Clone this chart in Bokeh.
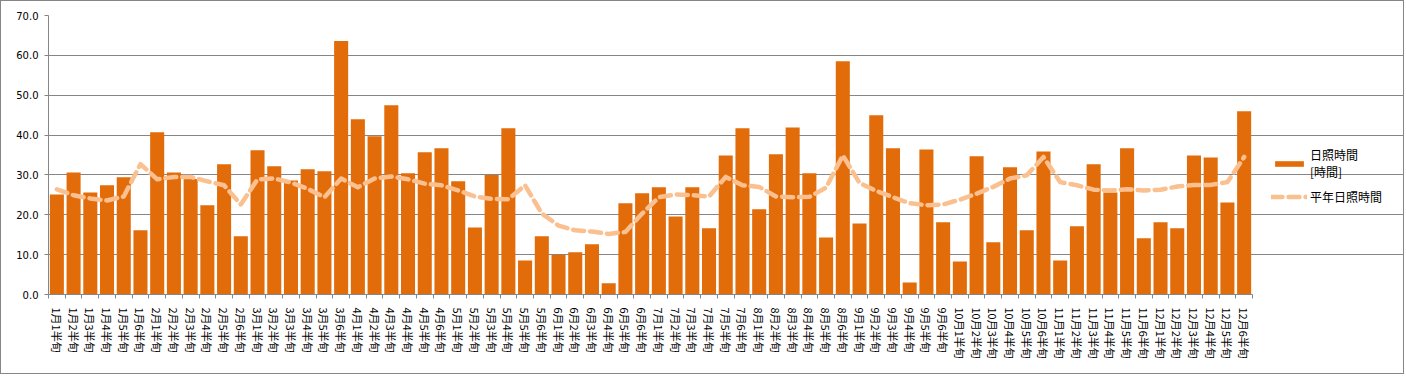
import numpy as np
from bokeh.plotting import figure
from bokeh.models import (Range1d, FixedTicker, NumeralTickFormatter, Legend, LegendItem)
from bokeh.embed import file_html
from bokeh.resources import INLINE

months = [f"{m}月" for m in range(1, 13)]
periods = [f"{k}半旬" for k in range(1, 7)]
categories = [m + p for m in months for p in periods]

sunshine = [
    25.1, 30.6, 25.6, 27.4, 29.4, 16.1,
    40.7, 30.6, 29.0, 22.4, 32.7, 14.6,
    36.2, 32.2, 28.6, 31.4, 30.9, 63.6,
    44.0, 39.7, 47.5, 30.4, 35.7, 36.7,
    28.4, 16.8, 30.0, 41.7, 8.5, 14.6,
    10.0, 10.6, 12.6, 2.8, 22.9, 25.4,
    26.9, 19.6, 26.9, 16.6, 34.9, 41.7,
    21.4, 35.2, 41.9, 30.4, 14.3, 58.5,
    17.8, 45.0, 36.7, 3.0, 36.4, 18.1,
    8.3, 34.7, 13.1, 31.9, 16.1, 35.9,
    8.5, 17.1, 32.7, 25.6, 36.7, 14.1,
    18.1, 16.6, 34.9, 34.4, 23.1, 46.0,
]

normal = [
    26.4, 24.9, 24.1, 23.6, 24.6, 32.7,
    28.9, 29.5, 29.5, 28.4, 27.4, 22.6,
    28.9, 29.1, 28.1, 26.5, 24.4, 29.1,
    26.9, 29.1, 29.6, 28.9, 27.8, 27.4,
    26.1, 24.6, 24.0, 23.9, 27.4, 20.3,
    17.3, 16.1, 15.8, 15.2, 15.7, 20.3,
    24.4, 25.1, 24.9, 24.6, 29.5, 27.4,
    27.0, 24.6, 24.4, 24.5, 26.8, 34.9,
    28.0, 26.0, 24.4, 22.9, 22.4, 22.6,
    23.8, 25.3, 27.0, 29.1, 29.9, 34.5,
    28.2, 27.4, 26.3, 26.1, 26.4, 26.1,
    26.3, 27.1, 27.5, 27.5, 28.2, 34.5,
]

y_ticks = [0, 10, 20, 30, 40, 50, 60, 70]

n = len(categories)
idx = list(range(n))

BAR = "#E36C0A"
LINE = "#FAC090"
GRID = "#868686"
JP = "Noto Sans CJK JP"

W, H = 1404, 374            # plus a 1px CSS border on each side
LEFT, TOP, BOTTOM = 47, 14, 81
PLOT_W = 1204               # pixel width of the category area
FRAME_W = W - LEFT          # frame extends to the right edge so the legend can sit in it
x_end = -0.5 + n * FRAME_W / PLOT_W

p = figure(width=W, height=H, output_backend="svg", toolbar_location=None,
           x_range=Range1d(-0.5, x_end), y_range=Range1d(0, 70),
           min_border_left=LEFT, min_border_right=0, min_border_top=TOP,
           min_border_bottom=BOTTOM)
p.outline_line_color = None
p.background_fill_color = "white"
p.border_fill_color = "white"
p.styles = {"border": "1px solid #868686"}

bars = p.vbar(x=idx, top=sunshine, width=0.84, color=BAR, line_color=None)
line = p.line(x=idx, y=normal, line_color=LINE, line_width=4.5,
              line_dash="11 6", line_cap="round", line_join="round")

# x axis
p.xaxis.bounds = (-0.5, n - 0.5)
p.xaxis.ticker = FixedTicker(ticks=idx, minor_ticks=[i - 0.5 for i in range(n + 1)])
p.xaxis.major_label_overrides = {i: c for i, c in enumerate(categories)}
p.xaxis.major_label_orientation = "vertical"
p.xaxis.major_tick_line_color = None
p.xaxis.minor_tick_line_color = GRID
p.xaxis.minor_tick_out = 4
p.xaxis.minor_tick_in = 0
p.xaxis.axis_line_color = GRID
p.xaxis.major_label_text_font = JP
p.xaxis.major_label_text_font_size = "11px"
p.xaxis.major_label_text_color = "black"
p.xaxis.major_label_standoff = 7
p.xgrid.grid_line_color = None

# y axis
p.yaxis.ticker = FixedTicker(ticks=y_ticks)
p.yaxis.formatter = NumeralTickFormatter(format="0.0")
p.yaxis.axis_line_color = GRID
p.yaxis.major_tick_line_color = GRID
p.yaxis.major_tick_out = 4
p.yaxis.major_tick_in = 0
p.yaxis.minor_tick_line_color = None
p.yaxis.major_label_text_font = "DejaVu Sans"
p.yaxis.major_label_text_font_size = "10px"
p.yaxis.major_label_text_color = "black"
p.yaxis.major_label_standoff = 6
p.ygrid.grid_line_color = GRID
p.ygrid.grid_line_width = 1
p.ygrid.bounds = (-0.5, n - 0.5)

legend = Legend(items=[LegendItem(label="日照時間\n[時間]", renderers=[bars]),
                       LegendItem(label="平年日照時間", renderers=[line])],
                location=(1223, 89))
legend.border_line_color = None
legend.background_fill_alpha = 0
legend.padding = 0
legend.margin = 0
legend.spacing = 8
legend.glyph_width = 36
legend.glyph_height = 7
legend.label_standoff = 3
legend.label_text_font = JP
legend.label_text_font_size = "12px"
legend.label_text_color = "black"
p.add_layout(legend, "center")

open("out.html", "w").write(file_html(p, INLINE))
